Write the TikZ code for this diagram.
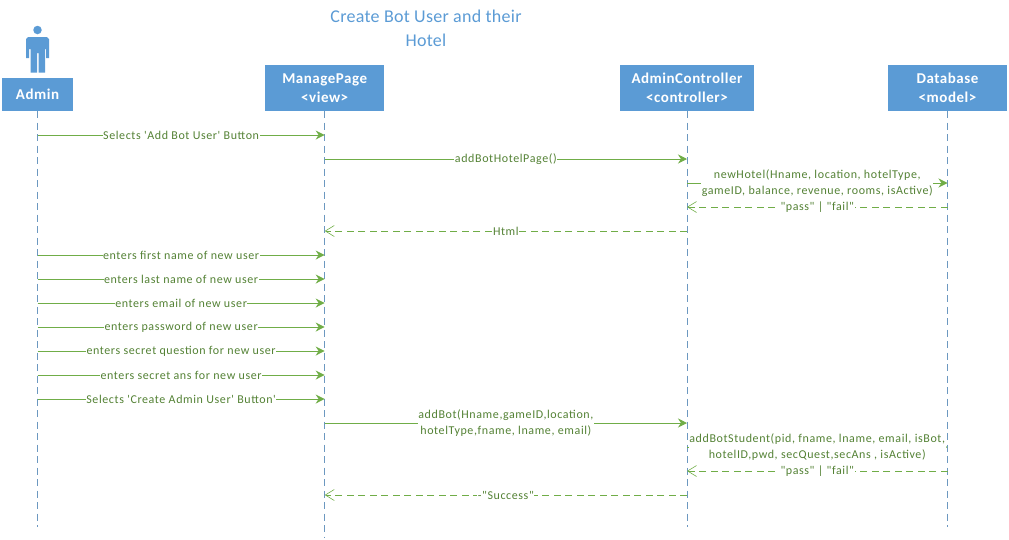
\documentclass[tikz,border=0pt]{standalone}
\usepackage{fontspec}
\setmainfont{Carlito}
\newfontfamily\msgfont[LetterSpace=5]{Carlito}
\newfontfamily\headfont[LetterSpace=3.5]{Carlito}
\newfontfamily\titlefont[LetterSpace=1.5]{Carlito}
\usepackage{xcolor}
\usetikzlibrary{positioning, arrows.meta}
\definecolor{headblue}{RGB}{91,155,213}
\definecolor{lifeblue}{RGB}{108,152,192}
\definecolor{msggreen}{RGB}{112,173,71}
\definecolor{textgreen}{RGB}{84,130,53}

\begin{document}
\begin{tikzpicture}[
    x=1pt, y=-1pt,
    >=Stealth,
    head/.style={rectangle, fill=headblue, text=white, align=center, inner sep=0pt, minimum height=46pt, font=\headfont\fontsize{15}{19}\selectfont\bfseries},
    lifeline/.style={draw=lifeblue, line width=0.8pt, dash pattern=on 7pt off 4.5pt},
    msglabel/.style={fill=white, text=textgreen, align=center, inner xsep=0.5pt, inner ysep=0.5pt, font=\msgfont\fontsize{12}{16}\selectfont},
    msg/.style={draw=msggreen, line width=0.9pt, -{Stealth[length=9pt, width=9pt]}},
    reply/.style={draw=msggreen, line width=0.7pt, dash pattern=on 7pt off 4.5pt, -{Straight Barb[length=9pt, width=11pt, line width=0.6pt]}}
]
\useasboundingbox (0,0) rectangle (1009,539);

% Title
\node[text=headblue, align=center, font=\titlefont\fontsize{18}{24}\selectfont] (title) at (426,28) {Create Bot User and their\\Hotel};

% Actor
\node[circle, fill=headblue, inner sep=0pt, minimum size=8.5pt] (adminface) at (37.5,30) {};
\fill[headblue] (28,37) -- (47,37) -- (49,39) -- (49,58) -- (46,58) -- (46,49) -- (45,49) -- (45,72.5)
    -- (38.5,72.5) -- (38.5,53) -- (37,53) -- (37,72.5) -- (30.5,72.5) -- (30.5,49) -- (29,49) -- (29,58) -- (26,58) -- (26,39) -- cycle;

% Lifeline heads
\node[head, minimum width=71pt, minimum height=33pt] (admin) at (37.5,94.5) {Admin};
\node[head, minimum width=118.5pt] (page) at (324.7,88) {ManagePage\\<view>};
\node[head, minimum width=134pt] (ctrl) at (687,88) {AdminController\\<controller>};
\node[head, minimum width=119pt] (db) at (947.5,88) {Database\\<model>};

% Lifelines
\coordinate (adminend) at (37.5,527);
\coordinate (pageend) at (324.7,538);
\coordinate (ctrlend) at (687,527);
\coordinate (dbend) at (947.5,527);
\draw[lifeline] (admin.south) -- (adminend);
\draw[lifeline] (page.south) -- (pageend);
\draw[lifeline] (ctrl.south) -- (ctrlend);
\draw[lifeline] (db.south) -- (dbend);

% Message ends
\coordinate (a1) at (37.5,135);   \coordinate (p1) at (324.7,135);
\coordinate (p2) at (324.7,159);  \coordinate (c2) at (687,159);
\coordinate (c3) at (687,183);    \coordinate (d3) at (947.5,183);
\coordinate (d4) at (947.5,207);  \coordinate (c4) at (687,207);
\coordinate (c5) at (687,231);    \coordinate (p5) at (324.7,231);
\coordinate (a6) at (37.5,255);   \coordinate (p6) at (324.7,255);
\coordinate (a7) at (37.5,279);   \coordinate (p7) at (324.7,279);
\coordinate (a8) at (37.5,303);   \coordinate (p8) at (324.7,303);
\coordinate (a9) at (37.5,327);   \coordinate (p9) at (324.7,327);
\coordinate (a10) at (37.5,351);  \coordinate (p10) at (324.7,351);
\coordinate (a11) at (37.5,375);  \coordinate (p11) at (324.7,375);
\coordinate (a12) at (37.5,399);  \coordinate (p12) at (324.7,399);
\coordinate (p13) at (324.7,423); \coordinate (c13) at (687,423);
\coordinate (c14) at (687,447);   \coordinate (d14) at (947.5,447);
\coordinate (d15) at (947.5,471); \coordinate (c15) at (687,471);
\coordinate (c16) at (687,495);   \coordinate (p16) at (324.7,495);

% Messages
\draw[msg] (a1) -- node[msglabel] {Selects 'Add Bot User' Button} (p1);
\draw[msg] (p2) -- node[msglabel] {addBotHotelPage()} (c2);
\draw[msg] (c3) -- node[msglabel] {newHotel(Hname, location, hotelType,\\gameID, balance, revenue, rooms, isActive)} (d3);
\draw[reply] (d4) -- node[msglabel] {"pass" | "fail"} (c4);
\draw[reply] (c5) -- node[msglabel] {Html} (p5);
\draw[msg] (a6) -- node[msglabel] {enters first name of new user} (p6);
\draw[msg] (a7) -- node[msglabel] {enters last name of new user} (p7);
\draw[msg] (a8) -- node[msglabel] {enters email of new user} (p8);
\draw[msg] (a9) -- node[msglabel] {enters password of new user} (p9);
\draw[msg] (a10) -- node[msglabel] {enters secret question for new user} (p10);
\draw[msg] (a11) -- node[msglabel] {enters secret ans for new user} (p11);
\draw[msg] (a12) -- node[msglabel] {Selects 'Create Admin User' Button'} (p12);
\draw[msg] (p13) -- node[msglabel] {addBot(Hname,gameID,location,\\hotelType,fname, lname, email)} (c13);
\draw[msg] (c14) -- node[msglabel] {addBotStudent(pid, fname, lname, email, isBot,\\hotelID,pwd, secQuest,secAns , isActive)} (d14);
\draw[reply] (d15) -- node[msglabel] {"pass" | "fail"} (c15);
\draw[reply] (c16) -- node[msglabel] {-"Success"} (p16);

\end{tikzpicture}
\end{document}
